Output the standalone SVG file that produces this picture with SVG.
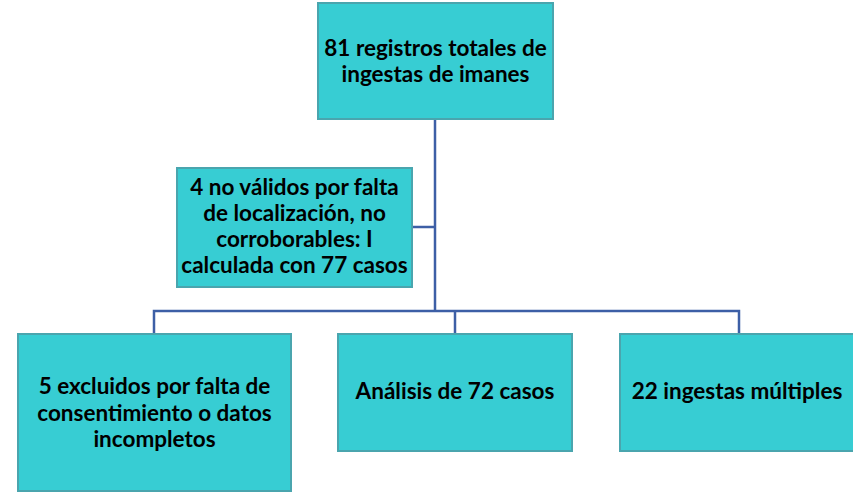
<svg xmlns="http://www.w3.org/2000/svg" width="853" height="493" viewBox="0 0 853 493">
<style>
.box{fill:#37CDD3;stroke:#4AA5AE;stroke-width:2}
.t{font-family:Lato,"Liberation Sans",sans-serif;font-weight:bold;font-size:22.5px;fill:#000;text-anchor:middle}
.c{fill:none;stroke:#3D5FA6;stroke-width:2.5}
</style>
<rect width="853" height="493" fill="#fff"/>
<g id="connectors">
<path class="c" d="M435,119 V311"/>
<path class="c" d="M413,227 H435"/>
<path class="c" d="M154,334 V311 H739 V334"/>
<path class="c" d="M455,311 V334"/>
</g>
<g id="n1"><rect class="box" x="318" y="3" width="235" height="116"/>
<text class="t" x="435.5" y="56">81 registros totales de</text>
<text class="t" x="435.5" y="82">ingestas de imanes</text></g>
<g id="n2"><rect class="box" x="177" y="168" width="235" height="119"/>
<text class="t" x="294.5" y="195">4 no válidos por falta</text>
<text class="t" x="294.5" y="221">de localización, no</text>
<text class="t" x="294.5" y="247">corroborables: I</text>
<text class="t" x="294.5" y="273">calculada con 77 casos</text></g>
<g id="n3"><rect class="box" x="18" y="334" width="273" height="157"/>
<text class="t" x="154.5" y="394">5 excluidos por falta de</text>
<text class="t" x="154.5" y="421">consentimiento o datos</text>
<text class="t" x="154.5" y="447">incompletos</text></g>
<g id="n4"><rect class="box" x="338" y="334" width="234" height="117"/>
<text class="t" x="455" y="399">Análisis de 72 casos</text></g>
<g id="n5"><rect class="box" x="620" y="334" width="234" height="117"/>
<text class="t" x="737" y="399">22 ingestas múltiples</text></g>
</svg>
